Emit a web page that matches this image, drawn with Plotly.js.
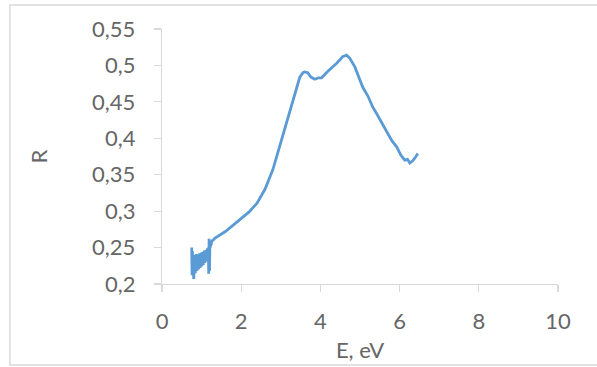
<!DOCTYPE html>
<html>
<head>
<meta charset="utf-8">
<script src="https://cdn.plot.ly/plotly-3.0.1.min.js"></script>
<style>html,body{margin:0;padding:0;background:#fff;}#chart{width:597px;height:367px;}</style>
</head>
<body>
<div id="chart"></div>
<script>
// Energy (eV) and reflectance R
var energy = [0.75,0.76,0.77,0.78,0.79,0.80,0.81,0.82,0.83,0.84,0.85,0.86,0.87,0.88,0.89,0.90,0.91,0.92,0.93,0.94,0.95,0.96,0.97,0.98,0.99,1.00,1.01,1.02,1.03,1.04,1.05,1.06,1.07,1.08,1.09,1.10,1.11,1.12,1.13,1.14,1.15,1.16,1.17,1.18,1.19,1.20,1.21,1.22,1.23,1.24,1.25,
  1.34,1.60,1.84,2.00,2.20,2.40,2.60,2.80,3.00,3.17,3.30,3.40,3.48,3.56,3.60,3.68,3.76,3.86,3.95,4.03,4.19,4.30,4.41,4.50,4.56,4.66,4.74,4.87,4.97,5.07,5.20,5.32,5.44,5.55,5.68,5.80,5.93,6.03,6.13,6.20,6.26,6.33,6.40,6.46];
var reflectance = [0.250,0.212,0.245,0.218,0.238,0.207,0.236,0.220,0.240,0.215,0.238,0.222,0.241,0.218,0.236,0.224,0.240,0.220,0.238,0.226,0.242,0.222,0.239,0.227,0.243,0.224,0.240,0.228,0.244,0.226,0.242,0.230,0.246,0.229,0.244,0.232,0.247,0.231,0.245,0.234,0.249,0.236,0.250,0.214,0.262,0.218,0.259,0.250,0.257,0.253,0.258,
  0.263,0.272,0.283,0.290,0.299,0.311,0.330,0.357,0.395,0.429,0.452,0.469,0.484,0.490,0.491,0.490,0.484,0.481,0.483,0.483,0.492,0.497,0.503,0.508,0.512,0.514,0.510,0.498,0.484,0.470,0.458,0.443,0.432,0.421,0.409,0.397,0.388,0.377,0.370,0.371,0.366,0.369,0.374,0.379];

var xTicks = [0,2,4,6,8,10];
var yTicks = [0.2,0.25,0.3,0.35,0.4,0.45,0.5,0.55];

var fontFam = 'Lato, "Open Sans", sans-serif';
var data = [{
  x: energy, y: reflectance, type: 'scatter', mode: 'lines',
  line: {color: '#5b9bd5', width: 2.8}, hoverinfo: 'skip'
}];
var layout = {
  width: 597, height: 367,
  margin: {l: 162, r: 39, t: 29, b: 83},
  paper_bgcolor: '#ffffff', plot_bgcolor: '#ffffff',
  separators: ',.',
  showlegend: false,
  font: {family: fontFam, size: 22, color: '#666666'},
  xaxis: {
    range: [0, 10], tickvals: xTicks, ticktext: xTicks.map(String),
    showgrid: false, zeroline: false, showline: true, linecolor: '#d9d9d9', linewidth: 1.2,
    ticks: 'outside', ticklen: 7, tickcolor: '#d9d9d9', tickwidth: 1.2,
    ticklabelstandoff: 10,
    title: {text: 'E, eV', font: {family: fontFam, size: 22, color: '#666666'}, standoff: 10}
  },
  yaxis: {
    range: [0.2, 0.55], tickvals: yTicks, ticktext: yTicks.map(function(v){return String(v).replace('.', ',');}),
    showgrid: false, zeroline: false, showline: true, linecolor: '#d9d9d9', linewidth: 1.2,
    ticks: 'outside', ticklen: 7, tickcolor: '#d9d9d9', tickwidth: 1.2,
    ticklabelstandoff: 14,
    title: {text: 'R', font: {family: fontFam, size: 22, color: '#666666'}, standoff: 38}
  },
  shapes: [{
    type: 'rect', xref: 'paper', yref: 'paper',
    x0: -0.384, x1: 1.2, y0: -0.3176, y1: 1.094,
    line: {color: '#d9d9d9', width: 1.5}, fillcolor: 'rgba(0,0,0,0)', layer: 'below'
  }]
};
Plotly.newPlot('chart', data, layout, {displayModeBar: false, staticPlot: true});
</script>
</body>
</html>
